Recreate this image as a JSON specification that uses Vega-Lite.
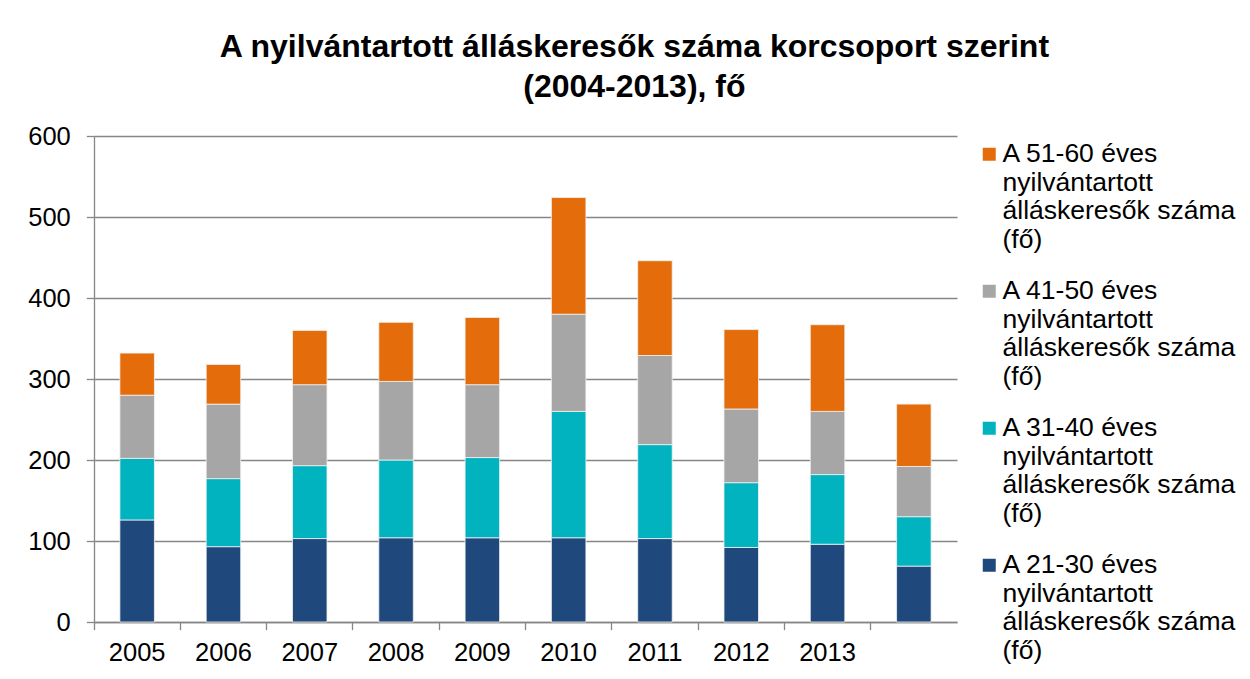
{
  "$schema": "https://vega.github.io/schema/vega-lite/v6.json",
  "width": 863,
  "height": 486,
  "padding": {"left": 27, "top": 30, "right": 5, "bottom": 5},
  "background": "white",
  "title": {
    "text": ["A nyilvántartott álláskeresők száma korcsoport szerint", "(2004-2013), fő"],
    "font": "Liberation Sans",
    "fontSize": 32,
    "fontWeight": "bold",
    "color": "#000000",
    "anchor": "middle",
    "frame": "bounds",
    "lineHeight": 40.7,
    "offset": 19.5
  },
  "data": {
    "values": [
      {"ev": "2005", "korcsoport": "A 21-30 éves nyilvántartott álláskeresők száma (fő)", "fo": 126},
      {"ev": "2005", "korcsoport": "A 31-40 éves nyilvántartott álláskeresők száma (fő)", "fo": 76},
      {"ev": "2005", "korcsoport": "A 41-50 éves nyilvántartott álláskeresők száma (fő)", "fo": 78},
      {"ev": "2005", "korcsoport": "A 51-60 éves nyilvántartott álláskeresők száma (fő)", "fo": 52},
      {"ev": "2006", "korcsoport": "A 21-30 éves nyilvántartott álláskeresők száma (fő)", "fo": 93},
      {"ev": "2006", "korcsoport": "A 31-40 éves nyilvántartott álláskeresők száma (fő)", "fo": 84},
      {"ev": "2006", "korcsoport": "A 41-50 éves nyilvántartott álláskeresők száma (fő)", "fo": 92},
      {"ev": "2006", "korcsoport": "A 51-60 éves nyilvántartott álláskeresők száma (fő)", "fo": 49},
      {"ev": "2007", "korcsoport": "A 21-30 éves nyilvántartott álláskeresők száma (fő)", "fo": 103},
      {"ev": "2007", "korcsoport": "A 31-40 éves nyilvántartott álláskeresők száma (fő)", "fo": 90},
      {"ev": "2007", "korcsoport": "A 41-50 éves nyilvántartott álláskeresők száma (fő)", "fo": 100},
      {"ev": "2007", "korcsoport": "A 51-60 éves nyilvántartott álláskeresők száma (fő)", "fo": 67},
      {"ev": "2008", "korcsoport": "A 21-30 éves nyilvántartott álláskeresők száma (fő)", "fo": 104},
      {"ev": "2008", "korcsoport": "A 31-40 éves nyilvántartott álláskeresők száma (fő)", "fo": 96},
      {"ev": "2008", "korcsoport": "A 41-50 éves nyilvántartott álláskeresők száma (fő)", "fo": 97},
      {"ev": "2008", "korcsoport": "A 51-60 éves nyilvántartott álláskeresők száma (fő)", "fo": 73},
      {"ev": "2009", "korcsoport": "A 21-30 éves nyilvántartott álláskeresők száma (fő)", "fo": 104},
      {"ev": "2009", "korcsoport": "A 31-40 éves nyilvántartott álláskeresők száma (fő)", "fo": 99},
      {"ev": "2009", "korcsoport": "A 41-50 éves nyilvántartott álláskeresők száma (fő)", "fo": 90},
      {"ev": "2009", "korcsoport": "A 51-60 éves nyilvántartott álláskeresők száma (fő)", "fo": 83},
      {"ev": "2010", "korcsoport": "A 21-30 éves nyilvántartott álláskeresők száma (fő)", "fo": 104},
      {"ev": "2010", "korcsoport": "A 31-40 éves nyilvántartott álláskeresők száma (fő)", "fo": 156},
      {"ev": "2010", "korcsoport": "A 41-50 éves nyilvántartott álláskeresők száma (fő)", "fo": 120},
      {"ev": "2010", "korcsoport": "A 51-60 éves nyilvántartott álláskeresők száma (fő)", "fo": 144},
      {"ev": "2011", "korcsoport": "A 21-30 éves nyilvántartott álláskeresők száma (fő)", "fo": 103},
      {"ev": "2011", "korcsoport": "A 31-40 éves nyilvántartott álláskeresők száma (fő)", "fo": 116},
      {"ev": "2011", "korcsoport": "A 41-50 éves nyilvántartott álláskeresők száma (fő)", "fo": 110},
      {"ev": "2011", "korcsoport": "A 51-60 éves nyilvántartott álláskeresők száma (fő)", "fo": 117},
      {"ev": "2012", "korcsoport": "A 21-30 éves nyilvántartott álláskeresők száma (fő)", "fo": 92},
      {"ev": "2012", "korcsoport": "A 31-40 éves nyilvántartott álláskeresők száma (fő)", "fo": 80},
      {"ev": "2012", "korcsoport": "A 41-50 éves nyilvántartott álláskeresők száma (fő)", "fo": 91},
      {"ev": "2012", "korcsoport": "A 51-60 éves nyilvántartott álláskeresők száma (fő)", "fo": 98},
      {"ev": "2013", "korcsoport": "A 21-30 éves nyilvántartott álláskeresők száma (fő)", "fo": 96},
      {"ev": "2013", "korcsoport": "A 31-40 éves nyilvántartott álláskeresők száma (fő)", "fo": 86},
      {"ev": "2013", "korcsoport": "A 41-50 éves nyilvántartott álláskeresők száma (fő)", "fo": 78},
      {"ev": "2013", "korcsoport": "A 51-60 éves nyilvántartott álláskeresők száma (fő)", "fo": 107},
      {"ev": "", "korcsoport": "A 21-30 éves nyilvántartott álláskeresők száma (fő)", "fo": 69},
      {"ev": "", "korcsoport": "A 31-40 éves nyilvántartott álláskeresők száma (fő)", "fo": 61},
      {"ev": "", "korcsoport": "A 41-50 éves nyilvántartott álláskeresők száma (fő)", "fo": 62},
      {"ev": "", "korcsoport": "A 51-60 éves nyilvántartott álláskeresők száma (fő)", "fo": 77}
    ]
  },
  "mark": {"type": "bar", "width": {"band": 0.4}, "stroke": "#f2f2f2", "strokeWidth": 0.8},
  "encoding": {
    "x": {
      "field": "ev",
      "type": "nominal",
      "sort": ["2005", "2006", "2007", "2008", "2009", "2010", "2011", "2012", "2013", ""],
      "scale": {"paddingInner": 0, "paddingOuter": 0},
      "axis": {
        "title": null,
        "bandPosition": 0,
        "labelAngle": 0,
        "labelFont": "Liberation Sans",
        "labelFontSize": 25.5,
        "labelColor": "#000000",
        "labelPadding": 10.5,
        "tickSize": 7.7,
        "tickColor": "#868686",
        "tickWidth": 1.3,
        "domainColor": "#868686",
        "domainWidth": 1.3,
        "grid": false
      }
    },
    "y": {
      "field": "fo",
      "type": "quantitative",
      "aggregate": "sum",
      "scale": {"domain": [0, 600], "nice": false},
      "axis": {
        "title": null,
        "values": [0, 100, 200, 300, 400, 500, 600],
        "labelFont": "Liberation Sans",
        "labelFontSize": 25.5,
        "labelColor": "#000000",
        "labelPadding": 16,
        "tickSize": 7.7,
        "tickColor": "#868686",
        "tickWidth": 1.3,
        "domainColor": "#868686",
        "domainWidth": 1.3,
        "gridColor": "#868686",
        "gridWidth": 1.3
      }
    },
    "color": {
      "field": "korcsoport",
      "type": "nominal",
      "scale": {
        "domain": [
          "A 51-60 éves nyilvántartott álláskeresők száma (fő)",
          "A 41-50 éves nyilvántartott álláskeresők száma (fő)",
          "A 31-40 éves nyilvántartott álláskeresők száma (fő)",
          "A 21-30 éves nyilvántartott álláskeresők száma (fő)"
        ],
        "range": ["#E46C0A", "#A6A6A6", "#00B3BF", "#1F497D"]
      },
      "legend": {
        "title": null,
        "orient": "right",
        "offset": 14,
        "padding": 5,
        "labelFont": "Liberation Sans",
        "labelFontSize": 26.5,
        "labelColor": "#000000",
        "labelLimit": 400,
        "labelOffset": 0,
        "labelBaseline": "middle",
        "labelExpr": "[slice(datum.label, 0, 12), slice(datum.label, 13, 27), slice(datum.label, 28, 46), slice(datum.label, 47)]",
        "symbolType": "square",
        "symbolSize": 169,
        "symbolStrokeWidth": 0,
        "rowPadding": 24
      }
    },
    "order": {"field": "korcsoport", "sort": "ascending"}
  },
  "config": {
    "view": {"stroke": null}
  }
}
